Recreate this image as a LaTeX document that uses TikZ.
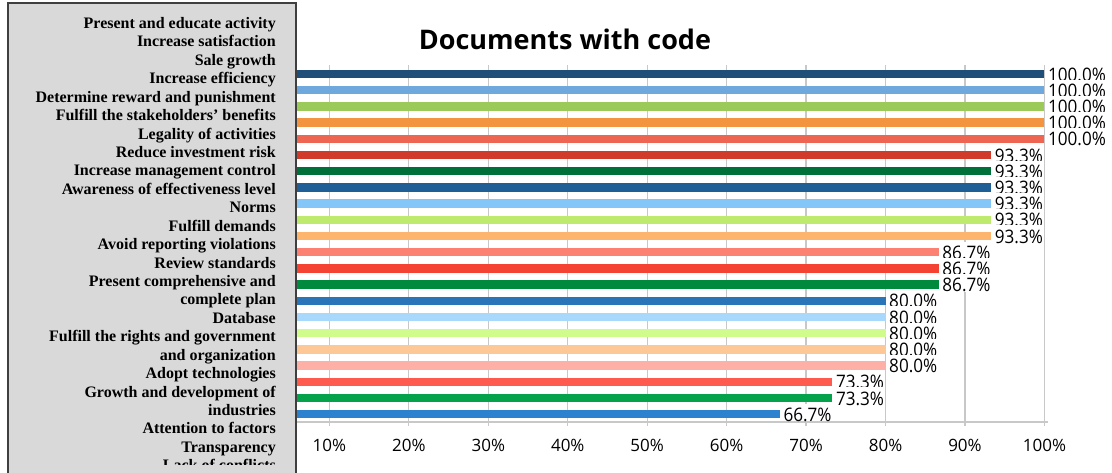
\documentclass[tikz,border=0pt]{standalone}
\usepackage{fontspec}
\setmainfont{Liberation Serif}
\newfontfamily\osans{Open Sans}
\newfontfamily\vfont[FakeStretch=0.92]{Open Sans}
\definecolor{b1}{HTML}{1F4E79}
\definecolor{b2}{HTML}{6FA8DC}
\definecolor{b3}{HTML}{9BC95A}
\definecolor{b4}{HTML}{F39441}
\definecolor{b5}{HTML}{EE6651}
\definecolor{b6}{HTML}{D13B2A}
\definecolor{b7}{HTML}{00703A}
\definecolor{b8}{HTML}{1F5E96}
\definecolor{b9}{HTML}{85C6F8}
\definecolor{b10}{HTML}{BEEB6E}
\definecolor{b11}{HTML}{FDB56E}
\definecolor{b12}{HTML}{FC8172}
\definecolor{b13}{HTML}{F44332}
\definecolor{b14}{HTML}{008A3E}
\definecolor{b15}{HTML}{2A74B8}
\definecolor{b16}{HTML}{A8D8FC}
\definecolor{b17}{HTML}{CFFC8A}
\definecolor{b18}{HTML}{FEC896}
\definecolor{b19}{HTML}{FEB0A6}
\definecolor{b20}{HTML}{FE5A4E}
\definecolor{b21}{HTML}{04A24A}
\definecolor{b22}{HTML}{2C82CE}
\definecolor{gridc}{HTML}{C8C8C8}
\definecolor{panelc}{HTML}{D9D9D9}
\definecolor{panelb}{HTML}{3F3F3F}
\begin{document}
\begin{tikzpicture}[x=1pt,y=-1pt,
  lbl/.style={anchor=base east, font=\bfseries\fontsize{16}{18}\selectfont, inner sep=0pt},
  val/.style={anchor=base west, font=\vfont\fontsize{18.6}{20}\selectfont, fill=white, inner xsep=0.5pt, inner ysep=0pt, text height=17.7pt, text depth=0pt},
  tick/.style={anchor=base, font=\osans\fontsize{17}{18}\selectfont, inner sep=0pt},
  gridline/.style={draw=gridc, line width=1.2pt},
  panel/.style={fill=panelc, draw=panelb, line width=1.5pt},
  titlestyle/.style={anchor=base, font=\osans\bfseries\fontsize{27}{30}\selectfont, inner sep=0pt}]
\useasboundingbox (0,0) rectangle (1112,472);
\fill[white] (0,0) rectangle (1112,472);
% grid
\foreach \k in {1,...,10} {
  \draw[gridline] (250+79.44*\k,65) -- (250+79.44*\k,426);
}
\draw[gridline] (290,422) -- (1048,422);
% bars and value labels
\foreach \v/\c [count=\i] in {100.0/b1,100.0/b2,100.0/b3,100.0/b4,100.0/b5,93.3/b6,93.3/b7,93.3/b8,93.3/b9,93.3/b10,93.3/b11,86.7/b12,86.7/b13,86.7/b14,80.0/b15,80.0/b16,80.0/b17,80.0/b18,80.0/b19,73.3/b20,73.3/b21,66.7/b22} {
  \pgfmathsetmacro\yy{74+16.2*(\i-1)}
  \pgfmathsetmacro\xx{250+7.944*\v}
  \fill[\c] (250,\yy-4.2) rectangle (\xx,\yy+4.2);
  \node[val] (v\i) at (\xx+3,\yy+7.1) {\v\%};
}
% tick labels
\foreach \k in {1,...,10} {
  \pgfmathtruncatemacro\pc{10*\k}
  \node[tick] (t\k) at (250+79.44*\k,451) {\pc\%};
}
% title
\node[titlestyle] (title) at (565,49) {Documents with code};
% left panel
\draw[panel] (8,3) rectangle (296,495);
\begin{scope}
\clip (8,3) rectangle (296,464);
\foreach \t [count=\j] in {Present and educate activity,Increase satisfaction,Sale growth,Increase efficiency,Determine reward and punishment,Fulfill the stakeholders’ benefits,Legality of activities,Reduce investment risk,Increase management control,Awareness of effectiveness level,Norms,Fulfill demands,Avoid reporting violations,Review standards,Present comprehensive and,complete plan,Database,Fulfill the rights and government,and organization,Adopt technologies,Growth and development of,industries,Attention to factors,Transparency,Lack of conflicts} {
  \node[lbl] (l\j) at (276,28.5+18.43*\j-18.43) {\t};
}
\end{scope}
\end{tikzpicture}
\end{document}
